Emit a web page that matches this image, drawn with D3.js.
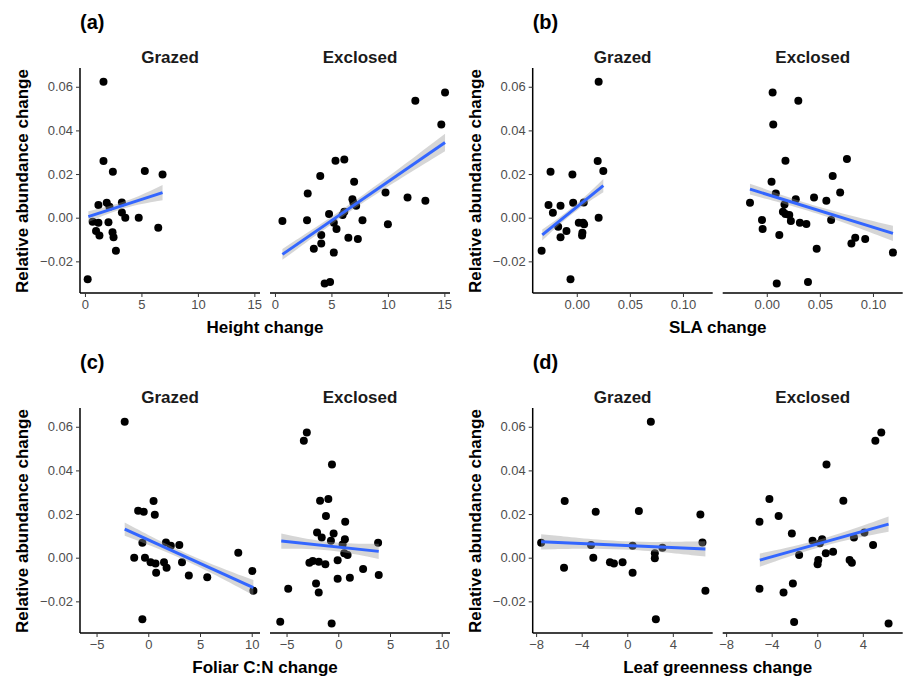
<!DOCTYPE html>
<html><head><meta charset="utf-8">
<script src="https://cdn.jsdelivr.net/npm/d3@7"></script>
<style>body{margin:0;background:#fff}text{font-family:"Liberation Sans",Arial,sans-serif}</style>
</head><body>
<svg id="chart" width="909" height="680"></svg>
<script>
// panel order: a (height), b (SLA), c (C:N), d (greenness)
const panelTags = ["(a)", "(b)", "(c)", "(d)"];
const xTitles = ["Height change", "SLA change", "Foliar C:N change", "Leaf greenness change"];
const facets = ["Grazed", "Exclosed"];
const yTicks = [-0.02, 0, 0.02, 0.04, 0.06];
const xTicksA = [0, 5, 10, 15];
const xTicksB = [0, 0.05, 0.1];
const xTicksC = [-5, 0, 5, 10];
const xTicksD = [-8, -4, 0, 4];

// points [x, y]
const aGrazed = [[1.64,0.0623],[1.64,0.026],[2.47,0.021],[5.3,0.0214],[6.87,0.0198],[1.19,0.0058],[1.93,0.0069],[3.27,0.007],[3.27,0.0024],[3.57,0],[4.76,0],[0.68,-0.0018],[1.19,-0.0023],[2.08,-0.0021],[0.98,-0.0061],[1.28,-0.0082],[2.44,-0.0067],[2.53,-0.009],[6.49,-0.0046],[2.74,-0.0151],[0.24,-0.0282],[2.17,0.005]];
const aExcl = [[0.66,-0.0015],[2.84,-0.0012],[2.9,0.0111],[4.01,0.0191],[5.36,0.0261],[6.14,0.0267],[7.01,0.0165],[6.86,0.0085],[6.95,0.0069],[7.19,0.0055],[6.14,0.0027],[4.79,0.0017],[5.99,0.0012],[5.21,-0.0023],[5.45,-0.0052],[4.1,-0.0079],[4.1,-0.0118],[3.44,-0.0142],[5.21,-0.016],[6.5,-0.0092],[7.34,-0.0098],[7.75,-0.0012],[9.79,0.0116],[10.0,-0.003],[11.74,0.0092],[13.32,0.0078],[12.43,0.0536],[14.73,0.0427],[15.06,0.0574],[4.4,-0.0301],[4.88,-0.0295]];
const bGrazed = [[0.0206,0.0623],[0.0197,0.026],[0.025,0.0214],[-0.0247,0.021],[-0.0041,0.0198],[-0.0266,0.0058],[-0.0153,0.0055],[-0.0225,0.0023],[-0.0034,0.0069],[0.0066,0.007],[0.0206,0],[0.0019,-0.0023],[0.0059,-0.0023],[0.0069,-0.003],[-0.0175,-0.0041],[-0.0097,-0.0061],[0.0053,-0.0069],[0.005,-0.0082],[-0.0153,-0.009],[-0.0331,-0.0151],[-0.0059,-0.0282]];
const bExcl = [[-0.0158,0.0069],[-0.0045,-0.0011],[-0.0039,-0.0052],[0.0055,0.0574],[0.0061,0.0427],[0.0045,0.0165],[0.0085,0.0111],[0.0176,0.0261],[0.0297,0.0536],[0.0167,0.0061],[0.0152,0.0027],[0.0176,0.0017],[0.0212,0.0012],[0.0227,-0.0015],[0.0118,-0.0079],[0.0273,0.0085],[0.0312,-0.0023],[0.0373,-0.0029],[0.0445,0.0092],[0.0561,0.0078],[0.0606,-0.0011],[0.0621,0.0191],[0.0691,0.0116],[0.0755,0.0269],[0.047,-0.0142],[0.0797,-0.0118],[0.0833,-0.0092],[0.0927,-0.0098],[0.1188,-0.016],[0.0094,-0.0302],[0.0388,-0.0295]];
const cGrazed = [[-2.28,0.0623],[0.51,0.026],[-0.98,0.0215],[-0.44,0.021],[0.63,0.0197],[-0.57,0.0069],[-1.36,0],[-0.32,0],[0.22,-0.0021],[0.7,-0.0027],[0.76,-0.0069],[1.71,0.007],[2.18,0.0055],[3.0,0.0058],[1.52,-0.0021],[1.77,-0.0046],[3.26,-0.0021],[3.92,-0.0082],[5.7,-0.009],[8.7,0.0023],[10.06,-0.0061],[10.16,-0.0151],[-0.57,-0.0282]];
const cExcl = [[-3.33,0.0536],[-3.04,0.0574],[-0.61,0.0427],[-1.76,0.0261],[-0.96,0.0269],[-1.19,0.0191],[0.67,0.0165],[-2.05,0.0116],[-1.6,0.0092],[-0.45,0.0111],[-0.71,0.0078],[0.64,0.0085],[0.42,0.0061],[0.58,0.002],[0.9,0.0012],[3.85,0.0069],[-2.79,-0.0023],[-2.47,-0.0015],[-1.89,-0.0018],[-1.25,-0.003],[-0.06,-0.0012],[2.4,-0.0052],[3.91,-0.0079],[-0.06,-0.0096],[1.12,-0.0092],[-2.15,-0.0118],[-1.89,-0.016],[-4.84,-0.0142],[-5.61,-0.0293],[-0.64,-0.0302]];
const dGrazed = [[2.07,0.0623],[-5.49,0.026],[-2.77,0.021],[1.02,0.0214],[6.42,0.0198],[-7.56,0.0069],[6.6,0.007],[-3.18,0.0058],[0.47,0.0055],[3.09,0.0046],[2.42,0.002],[2.42,-0.0003],[-2.98,0],[-1.52,-0.0021],[-1.17,-0.0027],[-0.41,-0.0021],[-5.55,-0.0046],[0.47,-0.0069],[6.86,-0.0151],[2.51,-0.0282]];
const dExcl = [[-4.2,0.0269],[-5.07,0.0165],[-3.39,0.0191],[-2.23,0.0111],[-1.59,0.0012],[-0.41,0.0078],[0.43,0.0084],[0.23,0.0066],[0.75,0.002],[1.39,0.0027],[0.09,-0.0011],[0.03,-0.003],[0.81,0.0427],[2.29,0.0261],[3.22,0.0092],[2.84,-0.0011],[3.04,-0.0023],[4.14,0.0116],[4.9,0.0058],[5.1,0.0536],[5.62,0.0574],[6.26,-0.0302],[-5.07,-0.0142],[-2.96,-0.016],[-2.14,-0.0118],[-2.03,-0.0295]];

// fitted lines: [x0, y0, x1, y1], ribbon half-width [start, middle, end]
const aFit = [[0.3,0.0005,6.87,0.0115],[0.66,-0.0168,15.06,0.0345]];
const bFit = [[-0.0325,-0.0079,0.025,0.0147],[-0.0158,0.0131,0.1188,-0.0072]];
const cFit = [[-2.28,0.0131,10.16,-0.0137],[-5.51,0.0076,3.91,0.0029]];
const dFit = [[-7.56,0.0073,6.86,0.004],[-5.04,-0.0011,6.26,0.0154]];
const aSe = [[0.0025,0.0009,0.0035],[0.0025,0.0011,0.004]];
const bSe = [[0.0025,0.0009,0.003],[0.0025,0.0011,0.0035]];
const cSe = [[0.003,0.0011,0.0035],[0.0035,0.0012,0.0035]];
const dSe = [[0.0035,0.0011,0.0035],[0.003,0.001,0.0035]];

const panels = [
  {pts:[aGrazed,aExcl], fit:aFit, se:aSe, dom:[-0.44,15.5], ticks:xTicksA, fmt:d=>d, ox:0, oy:0},
  {pts:[bGrazed,bExcl], fit:bFit, se:bSe, dom:[-0.0415,0.128], ticks:xTicksB, fmt:d3.format(".2f"), ox:452.7, oy:0},
  {pts:[cGrazed,cExcl], fit:cFit, se:cSe, dom:[-6.6,10.8], ticks:xTicksC, fmt:d=>d, ox:0, oy:340},
  {pts:[dGrazed,dExcl], fit:dFit, se:dSe, dom:[-8.3,7.5], ticks:xTicksD, fmt:d=>d, ox:452.7, oy:340}
];

const svg = d3.select("#chart");
const facetW = 180, gap = 10, left0 = 80, top0 = 73, bottom0 = 293;
const y = d3.scaleLinear().domain([-0.0345, 0.0663]).range([bottom0, top0]);
const minus = s => String(s).replace("-", "\u2212");

panels.forEach((p, i) => {
  const g = svg.append("g").attr("transform", `translate(${p.ox},${p.oy})`);
  g.append("text").attr("x", left0).attr("y", 29).attr("font-size", 20).attr("font-weight", "bold").text(panelTags[i]);
  g.append("text").attr("transform", `translate(28,${(top0+bottom0)/2 - 2}) rotate(-90)`).attr("text-anchor", "middle")
    .attr("font-size", 17).attr("font-weight", "bold").text("Relative abundance change");
  g.append("text").attr("x", left0 + facetW + gap/2).attr("y", 333).attr("text-anchor", "middle")
    .attr("font-size", 17).attr("font-weight", "bold").text(xTitles[i]);

  // y axis
  const ya = g.append("g").attr("transform", `translate(${left0},0)`)
    .call(d3.axisLeft(y).tickValues(yTicks).tickSize(4).tickFormat(d => minus(d3.format(".2f")(d))));
  ya.select(".domain").attr("stroke", "#000").attr("stroke-width", 1.5).attr("d", `M0,${top0-5}V${bottom0}`);
  ya.selectAll(".tick line").attr("stroke", "#333");
  ya.selectAll(".tick text").attr("fill", "#4d4d4d").attr("font-size", 13).style("font-family", "Liberation Sans, Arial");

  facets.forEach((f, j) => {
    const x0 = left0 + j * (facetW + gap);
    const x = d3.scaleLinear().domain(p.dom).range([x0, x0 + facetW]);
    g.append("text").attr("x", x0 + facetW/2).attr("y", 63).attr("text-anchor", "middle")
      .attr("font-size", 17).attr("font-weight", "bold").attr("fill", "#1a1a1a").text(f);
    const xa = g.append("g").attr("transform", `translate(0,${bottom0})`)
      .call(d3.axisBottom(x).tickValues(p.ticks).tickSize(4).tickFormat(d => minus(p.fmt(d))));
    xa.select(".domain").attr("stroke", "#000").attr("stroke-width", 1.5).attr("d", `M${x0},0H${x0+facetW}`);
    xa.selectAll(".tick line").attr("stroke", "#333");
    xa.selectAll(".tick text").attr("fill", "#4d4d4d").attr("font-size", 13).style("font-family", "Liberation Sans, Arial");

    g.append("g").selectAll("circle").data(p.pts[j]).join("circle")
      .attr("cx", d => x(d[0])).attr("cy", d => y(d[1])).attr("r", 4).attr("fill", "#000");

    const [fx0, fy0, fx1, fy1] = p.fit[j];
    const se = p.se[j];
    const band = [[fx0, fy0, se[0]], [(fx0+fx1)/2, (fy0+fy1)/2, se[1]], [fx1, fy1, se[2]]];
    g.append("path").datum(band).attr("fill", "#999").attr("fill-opacity", 0.4)
      .attr("d", d3.area().curve(d3.curveBasis).x(d => x(d[0])).y0(d => y(d[1]-d[2])).y1(d => y(d[1]+d[2])));
    g.append("line").attr("x1", x(fx0)).attr("y1", y(fy0)).attr("x2", x(fx1)).attr("y2", y(fy1))
      .attr("stroke", "#3366ff").attr("stroke-width", 3);
  });
});
</script>
</body></html>
